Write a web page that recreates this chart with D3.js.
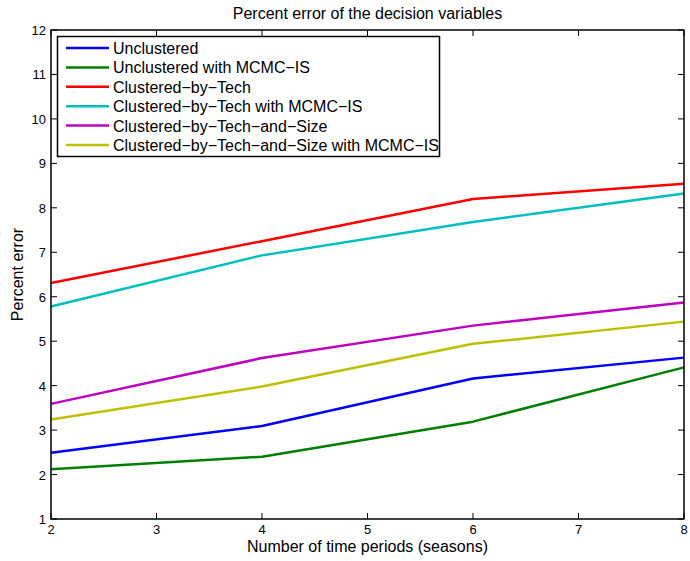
<!DOCTYPE html>
<html>
<head>
<meta charset="utf-8">
<script src="https://cdn.jsdelivr.net/npm/d3@7"></script>
<style>
  body { margin: 0; background: #fff; }
  text { font-family: "Liberation Sans", Arial, Helvetica, sans-serif; }
</style>
</head>
<body>
<svg id="vis" width="690" height="561"></svg>
<script>
// periods on x axis
var periods = [2, 4, 6, 8];
var seriesNames = [
  "Unclustered",
  "Unclustered with MCMC\u2212IS",
  "Clustered\u2212by\u2212Tech",
  "Clustered\u2212by\u2212Tech with MCMC\u2212IS",
  "Clustered\u2212by\u2212Tech\u2212and\u2212Size",
  "Clustered\u2212by\u2212Tech\u2212and\u2212Size with MCMC\u2212IS"
];
var unclustered = [2.49, 3.09, 4.16, 4.63];
var unclusteredMcmc = [2.12, 2.40, 3.19, 4.41];
var byTech = [6.31, 7.25, 8.20, 8.54];
var byTechMcmc = [5.78, 6.93, 7.68, 8.32];
var byTechSize = [3.59, 4.62, 5.35, 5.87];
var byTechSizeMcmc = [3.24, 3.98, 4.94, 5.44];
var xTicks = [2, 3, 4, 5, 6, 7, 8];
var yTicks = [1, 2, 3, 4, 5, 6, 7, 8, 9, 10, 11, 12];

var colors = ["#0000ff", "#008000", "#ff0000", "#00bfbf", "#bf00bf", "#bfbf00"];
var allSeries = [unclustered, unclusteredMcmc, byTech, byTechMcmc, byTechSize, byTechSizeMcmc];

var svg = d3.select("#vis");
var pLeft = 51, pRight = 684, pTop = 30, pBottom = 519;

var x = d3.scaleLinear().domain([2, 8]).range([pLeft, pRight]);
var y = d3.scaleLinear().domain([1, 12]).range([pBottom, pTop]);

// ticks on all four sides, pointing inward
var tickLen = 6;
var ax = svg.append("g").attr("stroke", "#000").attr("stroke-width", 1);
xTicks.forEach(function(t) {
  ax.append("line").attr("x1", x(t)).attr("x2", x(t)).attr("y1", pBottom).attr("y2", pBottom - tickLen);
  ax.append("line").attr("x1", x(t)).attr("x2", x(t)).attr("y1", pTop).attr("y2", pTop + tickLen);
});
yTicks.forEach(function(t) {
  ax.append("line").attr("x1", pLeft).attr("x2", pLeft + tickLen).attr("y1", y(t)).attr("y2", y(t));
  ax.append("line").attr("x1", pRight).attr("x2", pRight - tickLen).attr("y1", y(t)).attr("y2", y(t));
});

svg.selectAll(".xlab").data(xTicks).enter().append("text")
  .attr("x", function(d) { return x(d); })
  .attr("y", pBottom + 15)
  .attr("text-anchor", "middle")
  .style("font-size", "13px")
  .text(function(d) { return d; });

svg.selectAll(".ylab").data(yTicks).enter().append("text")
  .attr("x", pLeft - 5)
  .attr("y", function(d) { return y(d) + 5; })
  .attr("text-anchor", "end")
  .style("font-size", "13px")
  .text(function(d) { return d; });

// data lines
var line = d3.line()
  .x(function(d, i) { return x(periods[i]); })
  .y(function(d) { return y(d); });

allSeries.forEach(function(s, i) {
  svg.append("path")
    .attr("d", line(s))
    .attr("fill", "none")
    .attr("stroke", colors[i])
    .attr("stroke-width", 2.5)
    .attr("stroke-linejoin", "round");
});

// plot frame
svg.append("rect")
  .attr("x", pLeft).attr("y", pTop)
  .attr("width", pRight - pLeft).attr("height", pBottom - pTop)
  .attr("fill", "none").attr("stroke", "#000").attr("stroke-width", 1.5);

// legend
var lg = svg.append("g");
lg.append("rect")
  .attr("x", 57.5).attr("y", 36.5)
  .attr("width", 382).attr("height", 120)
  .attr("fill", "#fff").attr("stroke", "#000").attr("stroke-width", 1.5);
seriesNames.forEach(function(name, i) {
  var ry = 48 + i * 19.4;
  lg.append("line")
    .attr("x1", 66).attr("x2", 109)
    .attr("y1", ry).attr("y2", ry)
    .attr("stroke", colors[i]).attr("stroke-width", 2.5);
  lg.append("text")
    .attr("x", 113).attr("y", ry + 6)
    .style("font-size", "16px")
    .text(name);
});

// titles
svg.append("text")
  .attr("x", (pLeft + pRight) / 2).attr("y", 19)
  .attr("text-anchor", "middle")
  .style("font-size", "16px")
  .text("Percent error of the decision variables");

svg.append("text")
  .attr("x", (pLeft + pRight) / 2).attr("y", 552)
  .attr("text-anchor", "middle")
  .style("font-size", "16px")
  .text("Number of time periods (seasons)");

svg.append("text")
  .attr("transform", "translate(23," + (pTop + pBottom) / 2 + ") rotate(-90)")
  .attr("text-anchor", "middle")
  .style("font-size", "16px")
  .text("Percent error");
</script>
</body>
</html>
